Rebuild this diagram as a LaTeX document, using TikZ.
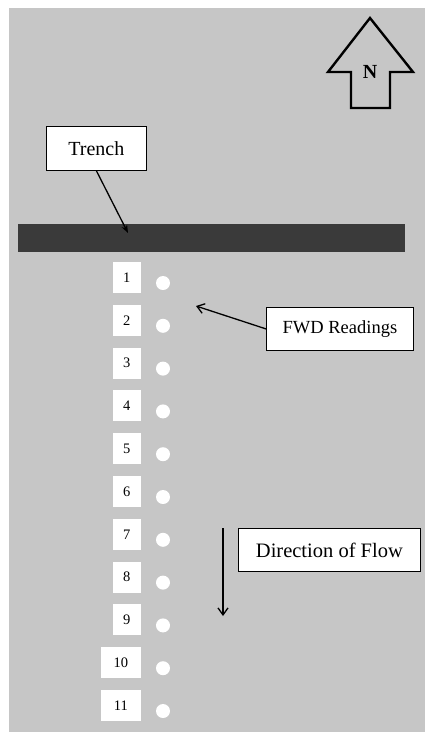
\documentclass[tikz,border=0pt]{standalone}
\usepackage{fontspec}
\setmainfont{Liberation Serif}
\usetikzlibrary{arrows.meta}
\definecolor{bggray}{RGB}{198,198,198}
\definecolor{trenchgray}{RGB}{58,58,58}
\begin{document}
\begin{tikzpicture}[x=1pt,y=-1pt,
  label box/.style={draw=black, line width=0.8pt, fill=white, inner sep=0pt, anchor=north west},
  numbox/.style={fill=white, inner sep=0pt, minimum height=31pt, anchor=east, font=\fontsize{14.5}{16}\selectfont},
  pointdot/.style={circle, fill=white, inner sep=0pt, minimum size=14pt},
  pointer/.style={line width=1.3pt, -{Stealth[length=8pt,width=6pt]}},
  barb/.style={line width=1.3pt, -{Straight Barb[length=7pt,width=10pt]}}]
\useasboundingbox (0,0) rectangle (425,732);
\fill[bggray] (9,8) rectangle (425,732);
% trench bar
\fill[trenchgray] (18,224) rectangle (405,252);
% north arrow
\draw[line width=2.4pt, line join=miter] (370,18) -- (413,72) -- (390,72) -- (390,108) -- (351,108) -- (351,72) -- (328,72) -- cycle;
\node[font=\fontsize{20}{22}\selectfont\bfseries] (north) at (370,72) {N};
% label boxes
\node[label box, minimum width=100pt, minimum height=44pt, font=\fontsize{20}{22}\selectfont] (trench) at (46,126) {Trench};
\node[label box, minimum width=147pt, minimum height=43pt, font=\fontsize{18.5}{20}\selectfont] (fwd) at (266,307) {FWD Readings};
\node[label box, minimum width=182pt, minimum height=43pt, font=\fontsize{20.5}{22}\selectfont] (flow) at (238,528) {Direction of Flow};
% arrows
\coordinate (trenchpt) at (128,233);
\draw[pointer] (trench.south) -- (trenchpt);
\coordinate (fwdpt) at (196,306);
\draw[barb] (fwd.west) -- (fwdpt);
\coordinate (flowtop) at (223,528);
\coordinate (flowbot) at (223,616);
\draw[barb] (flowtop) -- (flowbot);
% numbered readings
\foreach \i/\w in {1/28,2/28,3/28,4/28,5/28,6/28,7/28,8/28,9/28,10/40,11/40}{
  \pgfmathsetmacro{\cy}{277.5+42.8*(\i-1)}
  \node[numbox, minimum width=\w pt] (n\i) at (141,\cy) {\i};
  \node[pointdot] (p\i) at (163,\cy+5.5) {};
}
\end{tikzpicture}
\end{document}
